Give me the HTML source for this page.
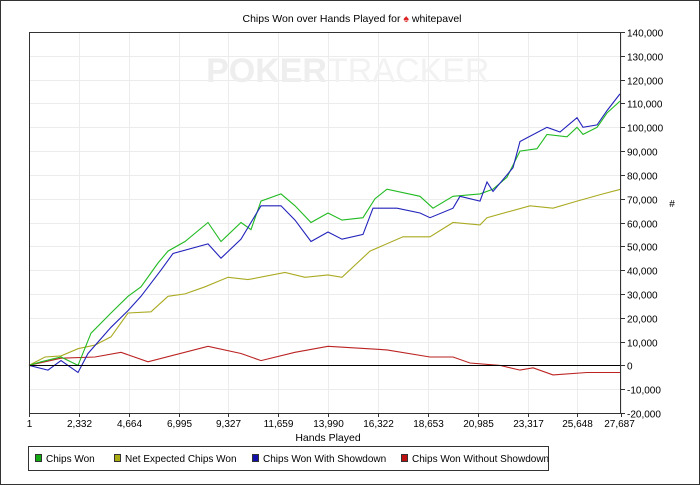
<!DOCTYPE html>
<html><head><meta charset="utf-8"><style>
body{margin:0;background:#fff;}
svg{display:block;font-family:"Liberation Sans",sans-serif;}
</style></head><body>
<svg id="chart" width="700" height="485">
<rect x="0.5" y="0.5" width="699" height="484" fill="#fff" stroke="#333"/>
<text x="352" y="22" font-size="10.5" text-anchor="middle">Chips Won over Hands Played for <tspan fill="#d22">♠</tspan> whitepavel</text>
<g id="grid"></g>
<text x="327" y="82" font-size="34" font-weight="bold" fill="#eee" text-anchor="end">POKER</text>
<text x="327" y="82" font-size="34" fill="#f2f2f2">TRACKER</text>
<g id="series"></g>
<g id="axes"></g>
<text x="328" y="441" font-size="10.5" text-anchor="middle">Hands Played</text>
<text x="672" y="207" font-size="10" text-anchor="middle">#</text>
<g>
<rect x="28.5" y="446.5" width="520" height="24" fill="#fff" stroke="#333"/>
<g><rect x="35.5" y="454.5" width="6" height="7" fill="#1a1" stroke="#333"/><text x="46" y="462" font-size="10">Chips Won</text></g>
<g><rect x="114.5" y="454.5" width="6" height="7" fill="#aa1" stroke="#333"/><text x="125" y="462" font-size="10">Net Expected Chips Won</text></g>
<g><rect x="252.5" y="454.5" width="6" height="7" fill="#11a" stroke="#333"/><text x="263" y="462" font-size="10">Chips Won With Showdown</text></g>
<g><rect x="401.5" y="454.5" width="6" height="7" fill="#b11" stroke="#333"/><text x="412" y="462" font-size="10">Chips Won Without Showdown</text></g>
</g>
</svg>
<script>
const xTicks=[1,2332,4664,6995,9327,11659,13990,16322,18653,20985,23317,25648,27687];
const xTickLabels=["1","2,332","4,664","6,995","9,327","11,659","13,990","16,322","18,653","20,985","23,317","25,648","27,687"];
const yTicks=[-20000,-10000,0,10000,20000,30000,40000,50000,60000,70000,80000,90000,100000,110000,120000,130000,140000];
const greenHands=[1,562,1498,2293,2900,3836,4631,5239,6034,6502,7297,8373,8981,9916,10384,10852,11787,12442,13190,13985,14640,15622,16183,16745,18288,18896,19832,21094,21702,22357,22965,23760,24228,25163,25631,25912,26567,27034,27642];
const greenVals=[0,1.5,3.5,0,13.5,22,29,33,43,48,52,60,52,60,57,69,72,67,60,64,61,62,70,74,71,66,71,72,74,79,90,91,97,96,100,97,100,106,111];
const blueHands=[1,890,1498,2293,2760,3836,4631,5239,6175,6736,8373,8981,9916,10852,11787,12442,13190,13985,14640,15622,16090,17212,18288,18756,19832,20159,21094,21421,21702,22638,22965,24228,24836,25631,25912,26567,27034,27642];
const blueVals=[0,-2,2,-3,5,16,23,29,40,47,51,45,53,67,67,61,52,56,53,55,66,66,64,62,66,71,69,77,73,83,94,100,98,104,100,101,107,114];
const yellowHands=[1,749,1498,2293,3088,3836,4631,5707,6502,7297,8233,9308,10244,11974,12910,13985,14640,15949,17492,18756,19832,21094,21421,23433,24509,25631,26847,27687];
const yellowVals=[0,3.5,4,7,8.5,12,22,22.5,29,30,33,37,36,39,37,38,37,48,54,54,60,59,62,67,66,69,72,74];
const redHands=[1,1498,3088,4304,5567,8373,9916,10852,12442,13985,16745,18756,19832,20627,22030,22965,23574,24509,26099,27315,27687];
const redVals=[0,3,3.5,5.5,1.5,8,5,2,5.5,8,6.5,3.5,3.5,1,0,-2,-1,-4,-3,-3,-3];

const X0=29,X1=621,Y0=413,Y1=32;
const xs=h=>X0+(h-1)/(27687-1)*(X1-X0);
const ys=v=>Y0-(v+20000)/160000*(Y0-Y1);
const NS="http://www.w3.org/2000/svg";
function mk(tag,attrs,parent){const e=document.createElementNS(NS,tag);for(const k in attrs)e.setAttribute(k,attrs[k]);parent.appendChild(e);return e;}
const grid=document.getElementById('grid'),axes=document.getElementById('axes'),series=document.getElementById('series');
xTicks.forEach((t,i)=>{const x=Math.round(xs(t))+0.5;
 const g=mk('line',{x1:x,x2:x,y1:Y1,y2:Y0,stroke:'#ececec'},grid);
 
 
 const tk=mk('line',{x1:x,x2:x,y1:Y0,y2:Y0+4,stroke:'#333'},axes);
 
 
 const tx=mk('text',{x:i==xTicks.length-1?x-2:x,y:427,'font-size':10,'text-anchor':'middle'},axes);
 tx.textContent=xTickLabels[i];
 
 
});
yTicks.forEach(t=>{const y=Math.round(ys(t))+0.5;
 const g=mk('line',{x1:X0,x2:X1,y1:y,y2:y,stroke:'#ececec'},grid);
 
 
 const tk=mk('line',{x1:X1,x2:X1+4,y1:y,y2:y,stroke:'#333'},axes);
 
 
 const tx=mk('text',{x:X1+6,y:y+4,'font-size':10},axes);
 tx.textContent=t.toLocaleString('en-US');
 
 
});
const zl=mk('line',{x1:X0,x2:X1,y1:Math.round(ys(0))+0.5,y2:Math.round(ys(0))+0.5,stroke:'#000'},axes);


const fr=mk('rect',{x:X0+0.5,y:Y1+0.5,width:X1-X0-1,height:Y0-Y1,fill:'none',stroke:'#333'},axes);


function line(h,v,color,name){
 const d=h.map((hh,i)=>(i?'L':'M')+xs(hh).toFixed(1)+','+ys(v[i]*1000).toFixed(1)).join('');
 const p=mk('path',{d:d,fill:'none',stroke:color,'stroke-width':1.1},series);
 
 
}
line(redHands,redVals,'#b22','line-without-showdown');
line(yellowHands,yellowVals,'#aa2','line-net-expected');
line(greenHands,greenVals,'#2b2','line-chips-won');
line(blueHands,blueVals,'#22b','line-with-showdown');
</script>
</body></html>
